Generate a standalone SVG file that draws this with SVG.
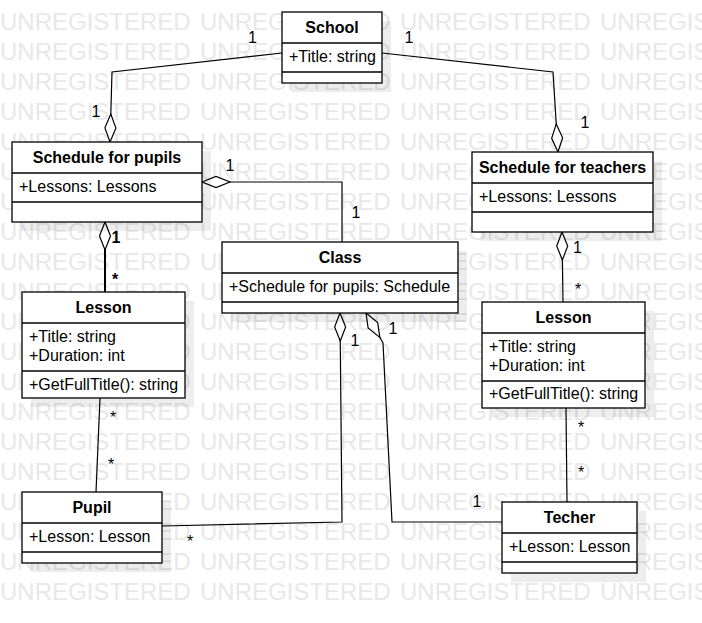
<svg xmlns="http://www.w3.org/2000/svg" width="702" height="623" viewBox="0 0 702 623">
<style>
text{font-family:"Liberation Sans",Arial,sans-serif;font-size:16px;fill:#000}
.wm text{font-size:24px;fill:#e8e8e8}
.box{fill:#fff;stroke:#000;stroke-width:1.3}
.sh{fill:#000;opacity:.07}
.div{stroke:#000;stroke-width:1.3}
.t{font-weight:bold;text-anchor:middle}
.lbl{text-anchor:middle}
.b{font-weight:bold}
.conn path{fill:none;stroke:#000;stroke-width:1.2}
</style>
<defs>
<g id="wmrow" class="wm"><text x="0">UNREGISTERED</text><text x="200">UNREGISTERED</text><text x="400">UNREGISTERED</text><text x="600">UNREGISTERED</text></g>
<marker id="dia" markerUnits="userSpaceOnUse" markerWidth="30" markerHeight="14" viewBox="-1 -7 30 14" refX="0" refY="0" orient="auto">
<path d="M0,0 L14,-5.5 L28,0 L14,5.5 Z" fill="#fff" stroke="#000" stroke-width="1.2"/>
</marker>
</defs>
<rect width="702" height="623" fill="#fff"/>
<g id="watermark">
<use href="#wmrow" y="30"/><use href="#wmrow" y="60"/><use href="#wmrow" y="90"/><use href="#wmrow" y="120"/>
<use href="#wmrow" y="150"/><use href="#wmrow" y="180"/><use href="#wmrow" y="210"/><use href="#wmrow" y="240"/>
<use href="#wmrow" y="270"/><use href="#wmrow" y="300"/><use href="#wmrow" y="330"/><use href="#wmrow" y="360"/>
<use href="#wmrow" y="390"/><use href="#wmrow" y="420"/><use href="#wmrow" y="450"/><use href="#wmrow" y="480"/>
<use href="#wmrow" y="510"/><use href="#wmrow" y="540"/><use href="#wmrow" y="570"/><use href="#wmrow" y="600"/>
</g>
<g class="conn" id="connectors">
<path d="M110,142 L112,72 L282,53" marker-start="url(#dia)"/>
<path d="M558,152 L553,72 L382,53" marker-start="url(#dia)"/>
<path d="M202,182 L342,182 L342,242" marker-start="url(#dia)"/>
<path d="M105,222 L105,292" marker-start="url(#dia)" style="stroke-width:2"/>
<path d="M562,232 L563,302" marker-start="url(#dia)"/>
<path d="M100,398 L96,492"/>
<path d="M566,408 L567,502"/>
<path d="M340,313 L342,522 L162,526" marker-start="url(#dia)"/>
<path d="M366,313 L383,343 L392,522 L502,522" marker-start="url(#dia)"/>
</g>
<g id="labels">
<text class="lbl" x="252.5" y="43">1</text>
<text class="lbl" x="409" y="43">1</text>
<text class="lbl" x="96" y="117">1</text>
<text class="lbl" x="585" y="128">1</text>
<text class="lbl" x="230" y="171">1</text>
<text class="lbl" x="356" y="218">1</text>
<text class="lbl b" x="116" y="243">1</text>
<text class="lbl b" x="115" y="284.5">*</text>
<text class="lbl" x="577.5" y="253">1</text>
<text class="lbl" x="578" y="294.5">*</text>
<text class="lbl" x="355" y="346">1</text>
<text class="lbl" x="393" y="334">1</text>
<text class="lbl" x="113" y="423">*</text>
<text class="lbl" x="111" y="469.5">*</text>
<text class="lbl" x="190" y="546.5">*</text>
<text class="lbl" x="477" y="507">1</text>
<text class="lbl" x="581" y="433">*</text>
<text class="lbl" x="581" y="478">*</text>
</g>
<g id="School">
<rect class="sh" x="291" y="21" width="100" height="71"/>
<rect class="box" x="282" y="12" width="100" height="71"/>
<line class="div" x1="282" y1="43" x2="382" y2="43"/><line class="div" x1="282" y1="72" x2="382" y2="72"/>
<text class="t" x="332" y="32.5">School</text>
<text x="289" y="62">+Title: string</text>
</g>
<g id="SchedulePupils">
<rect class="sh" x="21" y="151" width="190" height="80"/>
<rect class="box" x="12" y="142" width="190" height="80"/>
<line class="div" x1="12" y1="173" x2="202" y2="173"/><line class="div" x1="12" y1="202" x2="202" y2="202"/>
<text class="t" x="107" y="163">Schedule for pupils</text>
<text x="19" y="192">+Lessons: Lessons</text>
</g>
<g id="ScheduleTeachers">
<rect class="sh" x="481" y="161" width="181" height="80"/>
<rect class="box" x="472" y="152" width="181" height="80"/>
<line class="div" x1="472" y1="183" x2="653" y2="183"/><line class="div" x1="472" y1="212" x2="653" y2="212"/>
<text class="t" x="562.5" y="173">Schedule for teachers</text>
<text x="479" y="202">+Lessons: Lessons</text>
</g>
<g id="Class">
<rect class="sh" x="231" y="251" width="236" height="71"/>
<rect class="box" x="222" y="242" width="236" height="71"/>
<line class="div" x1="222" y1="273" x2="458" y2="273"/><line class="div" x1="222" y1="302" x2="458" y2="302"/>
<text class="t" x="340" y="263">Class</text>
<text x="229" y="292">+Schedule for pupils: Schedule</text>
</g>
<g id="LessonLeft">
<rect class="sh" x="31" y="301" width="163" height="106"/>
<rect class="box" x="22" y="292" width="163" height="106"/>
<line class="div" x1="22" y1="323" x2="185" y2="323"/><line class="div" x1="22" y1="371" x2="185" y2="371"/>
<text class="t" x="103.5" y="312.5">Lesson</text>
<text x="29" y="342">+Title: string</text>
<text x="29" y="360.5">+Duration: int</text>
<text x="29" y="389.5">+GetFullTitle(): string</text>
</g>
<g id="LessonRight">
<rect class="sh" x="491" y="311" width="163" height="106"/>
<rect class="box" x="482" y="302" width="163" height="106"/>
<line class="div" x1="482" y1="333" x2="645" y2="333"/><line class="div" x1="482" y1="381" x2="645" y2="381"/>
<text class="t" x="563.5" y="322.5">Lesson</text>
<text x="489" y="352">+Title: string</text>
<text x="489" y="370.5">+Duration: int</text>
<text x="489" y="399">+GetFullTitle(): string</text>
</g>
<g id="Pupil">
<rect class="sh" x="31" y="501" width="140" height="71"/>
<rect class="box" x="22" y="492" width="140" height="71"/>
<line class="div" x1="22" y1="523" x2="162" y2="523"/><line class="div" x1="22" y1="552" x2="162" y2="552"/>
<text class="t" x="92" y="512.5">Pupil</text>
<text x="29" y="542">+Lesson: Lesson</text>
</g>
<g id="Techer">
<rect class="sh" x="511" y="511" width="135" height="71"/>
<rect class="box" x="502" y="502" width="135" height="71"/>
<line class="div" x1="502" y1="533" x2="637" y2="533"/><line class="div" x1="502" y1="562" x2="637" y2="562"/>
<text class="t" x="569.5" y="522.5">Techer</text>
<text x="509" y="552">+Lesson: Lesson</text>
</g>
</svg>
